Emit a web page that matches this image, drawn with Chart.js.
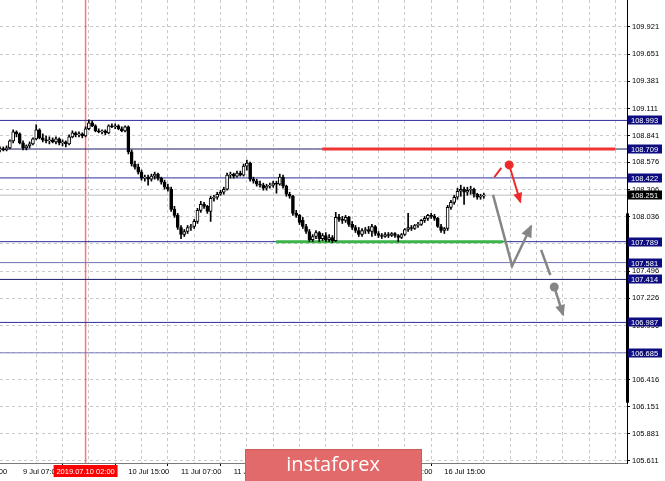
<!DOCTYPE html>
<html>
<head>
<meta charset="utf-8">
<script src="https://cdn.jsdelivr.net/npm/chart.js@4.4.1/dist/chart.umd.min.js"></script>
<style>
  html, body { margin: 0; padding: 0; background: #fff; }
  #wrap { width: 665px; height: 481px; }
</style>
</head>
<body>
<div id="wrap"><canvas id="myChart" width="665" height="481"></canvas></div>
<script>
// USDJPY H1, candle index 0 = 9 Jul 00:00
const opens = [
  108.70,108.71,108.70,108.72,108.79,108.88,108.86,108.77,108.72,108.74,
  108.76,108.81,108.90,108.82,108.80,108.79,108.80,108.78,108.81,108.77,
  108.78,108.76,108.83,108.87,108.85,108.86,108.84,108.91,108.97,108.94,
  108.89,108.88,108.89,108.87,108.94,108.93,108.94,108.91,108.89,108.93,
  108.68,108.56,108.53,108.48,108.42,108.43,108.41,108.44,108.46,108.42,
  108.38,108.33,108.31,108.11,108.05,107.93,107.86,107.89,107.93,107.94,
  107.99,108.10,108.16,108.14,108.09,108.22,108.23,108.26,108.28,108.31,
  108.45,108.46,108.44,108.47,108.45,108.54,108.57,108.41,108.39,108.36,
  108.35,108.32,108.34,108.35,108.37,108.36,108.43,108.34,108.26,108.24,
  108.07,108.05,108.00,107.94,107.89,107.81,107.84,107.88,107.82,107.85,
  107.81,107.83,107.80,108.03,108.01,108.00,108.03,107.96,107.93,107.90,
  107.86,107.90,107.91,107.89,107.94,107.87,107.85,107.84,107.86,107.85,
  107.87,107.85,107.83,107.86,107.91,107.93,107.92,107.95,107.96,108.00,
  108.02,108.05,108.04,108.02,107.94,107.90,107.92,108.13,108.18,108.23,
  108.29,108.31,108.28,108.30,108.31,108.26,108.23,108.24
];
const highs = [
  108.73,108.73,108.74,108.80,108.90,108.89,108.87,108.79,108.75,108.78,
  108.82,108.95,108.91,108.86,108.84,108.83,108.82,108.83,108.82,108.80,
  108.79,108.85,108.89,108.88,108.88,108.87,108.93,109.00,108.99,108.95,
  108.91,108.90,108.90,108.95,108.96,108.96,108.95,108.93,108.94,108.94,
  108.70,108.59,108.56,108.50,108.45,108.45,108.46,108.48,108.47,108.43,
  108.40,108.36,108.33,108.14,108.07,107.95,107.91,107.95,107.96,108.01,
  108.12,108.19,108.18,108.15,108.24,108.25,108.28,108.30,108.33,108.47,
  108.48,108.47,108.49,108.49,108.56,108.60,108.58,108.43,108.41,108.39,
  108.37,108.36,108.37,108.39,108.39,108.46,108.45,108.35,108.28,108.25,
  108.10,108.06,108.03,107.96,107.91,107.86,107.90,107.89,107.87,107.88,
  107.86,107.85,108.08,108.06,108.04,108.05,108.04,107.99,107.95,107.93,
  107.92,107.93,107.94,107.96,107.95,107.89,107.87,107.88,107.88,107.88,
  107.88,107.86,107.87,107.92,108.07,107.95,107.96,107.98,108.01,108.04,
  108.06,108.07,108.06,108.03,107.96,107.93,108.15,108.20,108.25,108.32,
  108.35,108.33,108.33,108.34,108.32,108.27,108.26,108.27
];
const lows = [
  108.68,108.69,108.69,108.71,108.77,108.83,108.76,108.70,108.70,108.72,
  108.75,108.80,108.81,108.78,108.77,108.76,108.77,108.76,108.75,108.74,
  108.73,108.75,108.82,108.83,108.83,108.82,108.83,108.90,108.93,108.88,
  108.87,108.86,108.85,108.86,108.92,108.91,108.90,108.88,108.88,108.66,
  108.54,108.51,108.46,108.40,108.39,108.35,108.39,108.41,108.40,108.36,
  108.31,108.29,108.09,108.03,107.91,107.82,107.84,107.87,107.90,107.92,
  107.97,108.08,108.12,108.07,107.99,108.19,108.21,108.25,108.26,108.30,
  108.42,108.42,108.43,108.44,108.44,108.50,108.39,108.37,108.34,108.33,
  108.30,108.30,108.32,108.33,108.27,108.35,108.32,108.24,108.22,108.05,
  108.03,107.96,107.92,107.87,107.79,107.79,107.82,107.79,107.80,107.79,
  107.79,107.78,107.79,107.99,107.97,107.98,107.94,107.91,107.88,107.84,
  107.84,107.87,107.87,107.84,107.85,107.83,107.82,107.83,107.83,107.84,
  107.83,107.79,107.82,107.85,107.89,107.90,107.91,107.93,107.95,107.98,
  108.00,108.02,108.00,107.93,107.88,107.87,107.90,108.11,108.16,108.21,
  108.24,108.16,108.25,108.26,108.23,108.21,108.21,108.22
];
const closes = [
  108.71,108.70,108.72,108.79,108.88,108.86,108.77,108.72,108.74,108.76,
  108.81,108.90,108.82,108.80,108.79,108.80,108.78,108.81,108.77,108.78,
  108.76,108.83,108.87,108.85,108.86,108.84,108.91,108.97,108.94,108.89,
  108.88,108.89,108.87,108.94,108.93,108.94,108.91,108.89,108.93,108.68,
  108.56,108.53,108.48,108.42,108.43,108.41,108.44,108.46,108.42,108.38,
  108.33,108.31,108.11,108.05,107.93,107.86,107.89,107.93,107.94,107.99,
  108.10,108.16,108.14,108.09,108.22,108.23,108.26,108.28,108.31,108.45,
  108.46,108.44,108.47,108.45,108.54,108.57,108.41,108.39,108.36,108.35,
  108.32,108.34,108.35,108.37,108.36,108.43,108.34,108.26,108.24,108.07,
  108.05,107.98,107.94,107.89,107.81,107.84,107.88,107.82,107.85,107.81,
  107.83,107.80,108.03,108.01,108.00,108.03,107.96,107.93,107.90,107.86,
  107.90,107.91,107.89,107.94,107.87,107.85,107.84,107.86,107.85,107.87,
  107.85,107.83,107.86,107.91,107.93,107.92,107.95,107.96,108.00,108.02,
  108.05,108.04,108.02,107.94,107.90,107.92,108.13,108.18,108.23,108.29,
  108.31,108.28,108.30,108.31,108.26,108.23,108.24,108.251
];

// axis
const yTicks = [109.921,109.651,109.381,109.111,108.841,108.576,108.306,108.036,107.766,
  107.496,107.226,106.956,106.686,106.416,106.151,105.881,105.611];
const gridIdx = [-9,7,15,23,31,39,47,55,63,71,79,87,95,103,111,119,127,135,143,151,159,167,175,183];
const labelIdx = [-9,7,23,39,55,71,87,103,119,135];
const labelText = ['8 Jul 15:00','9 Jul 07:00','9 Jul 23:00','10 Jul 15:00','11 Jul 07:00',
  '11 Jul 23:00','12 Jul 15:00','15 Jul 07:00','15 Jul 23:00','16 Jul 15:00'];

// levels
const levelValues = [108.993,108.709,108.422,107.789,107.581,107.414,106.987,106.685];
const levelColors = ['#2e2e9c','#1a1a5e','#2e2e9c','#2e2e9c','#7272b4','#1c1c66','#2e2e9c','#7a7ab8'];
const lastPrice = 108.251;
const markIdx = 26;            // 2019.07.10 02:00
const markText = '2019.07.10 02:00';
const resistSeg = [[97.9,108.709],[186.9,108.709]];
const supportSeg = [[83.9,107.789],[152.9,107.789]];

// forecast sketch
const redTick = [[150.2,108.431],[152.3,108.521]];
const redDot = [154.7,108.551];
const redArrow = [[154.7,108.551],[158.1,108.183]];
const grayPath = [[149.8,108.253],[155.6,107.548],[161.4,107.945]];
const grayTick = [[164.4,107.707],[167.2,107.458]];
const grayDot = [168.4,107.339];
const grayArrow = [[168.4,107.339],[171.1,107.061]];
const axisBar = [108.07,106.19];

const X_MIN = 0, X_MAX = 190.5, Y_MIN = 105.591, Y_MAX = 110.189;
const FONT = {family: 'Liberation Sans', size: 7.5};

const pts = a => a.map(p => ({x: p[0], y: p[1]}));
const seg = (data, color, width, order, extra) => Object.assign({
  type: 'line', data: pts(data), borderColor: color, borderWidth: width,
  pointRadius: 0, tension: 0, fill: false, order: order
}, extra || {});

const datasets = [];
// candles
datasets.push({
  type: 'bar', order: 1, grouped: false, barThickness: 3,
  data: opens.map((o, i) => ({x: i, y: [Math.min(o, closes[i]), Math.max(o, closes[i])]})),
  backgroundColor: opens.map((o, i) => closes[i] >= o ? '#ffffff' : '#000000'),
  borderColor: '#000', borderWidth: 1, borderSkipped: false
});
datasets.push({
  type: 'bar', order: 2, grouped: false, barThickness: 1,
  data: highs.map((h, i) => ({x: i, y: [lows[i], h]})),
  backgroundColor: '#000', borderWidth: 0
});
levelValues.forEach((v, k) => datasets.push(seg([[X_MIN, v],[X_MAX, v]], levelColors[k], 1, 6)));
datasets.push(seg([[X_MIN, lastPrice],[X_MAX, lastPrice]], '#bdbdbd', 1, 7));
datasets.push(seg([[markIdx, Y_MIN],[markIdx, Y_MAX]], 'rgba(255,70,70,0.75)', 1.5, 8));
datasets.push(seg(resistSeg, '#f03434', 3, 5));
datasets.push(seg(supportSeg, '#3cb44b', 3, 5));
datasets.push(seg(redTick, '#ee2a2a', 2, 0));
datasets.push(seg(redArrow, '#ee2a2a', 2, 0, {arrowSize: 9}));
datasets.push(seg([redDot], '#ee2a2a', 0, 0, {pointRadius: 4.5, pointBackgroundColor: '#ee2a2a', pointBorderWidth: 0}));
datasets.push(seg(grayPath, '#868686', 2.5, 0, {arrowSize: 11}));
datasets.push(seg(grayTick, '#868686', 2.5, 0));
datasets.push(seg(grayArrow, '#868686', 2.5, 0, {arrowSize: 10}));
datasets.push(seg([grayDot], '#868686', 0, 0, {pointRadius: 4.5, pointBackgroundColor: '#868686', pointBorderWidth: 0}));

const arrowHeads = {
  id: 'arrowHeads',
  afterDatasetsDraw(chart) {
    const ctx = chart.ctx;
    chart.data.datasets.forEach((ds, i) => {
      if (!ds.arrowSize) return;
      const el = chart.getDatasetMeta(i).data;
      const a = el[el.length - 2], b = el[el.length - 1];
      const ang = Math.atan2(b.y - a.y, b.x - a.x);
      const s = ds.arrowSize, w = s * 0.5;
      const bx = b.x - s * Math.cos(ang), by = b.y - s * Math.sin(ang);
      ctx.save();
      ctx.fillStyle = ds.borderColor;
      ctx.beginPath();
      ctx.moveTo(b.x + 1.5 * Math.cos(ang), b.y + 1.5 * Math.sin(ang));
      ctx.lineTo(bx + w * Math.sin(ang), by - w * Math.cos(ang));
      ctx.lineTo(bx - w * Math.sin(ang), by + w * Math.cos(ang));
      ctx.closePath();
      ctx.fill();
      ctx.restore();
    });
  }
};

const tags = {
  id: 'tags',
  afterDraw(chart) {
    const ctx = chart.ctx, xs = chart.scales.x, ys = chart.scales.y;
    const right = chart.chartArea.right;
    ctx.save();
    // thick segment on the price axis
    ctx.fillStyle = '#000';
    const t = ys.getPixelForValue(axisBar[0]), b = ys.getPixelForValue(axisBar[1]);
    ctx.fillRect(right - 1, t, 3, b - t);

    ctx.font = '7.5px "Liberation Sans"';
    ctx.textBaseline = 'middle';
    const tag = (v, bg) => {
      const y = Math.round(ys.getPixelForValue(v));
      ctx.fillStyle = bg;
      ctx.fillRect(right + 1, y - 4.5, 34, 9);
      ctx.fillStyle = '#fff';
      ctx.textAlign = 'left';
      ctx.fillText(v.toFixed(3), right + 4, y + 0.5);
    };
    levelValues.forEach(v => tag(v, '#0d0d80'));
    tag(lastPrice, '#000');

    // date box under the red line
    const mx = xs.getPixelForValue(markIdx);
    ctx.fillStyle = '#ff0000';
    ctx.fillRect(mx - 32, 465, 64, 12);
    ctx.fillStyle = '#fff';
    ctx.textAlign = 'center';
    ctx.fillText(markText, mx, 471.5);

    // watermark
    ctx.fillStyle = '#e36a6a';
    ctx.fillRect(245, 449, 177, 32);
    ctx.strokeStyle = '#cf5a5a';
    ctx.lineWidth = 1;
    ctx.strokeRect(245.5, 449.5, 176, 32);
    ctx.fillStyle = '#fff';
    ctx.font = '20px "Open Sans"';
    ctx.textAlign = 'center';
    ctx.fillText('instaforex', 333, 465);
    ctx.restore();
  }
};

const ctx = document.getElementById('myChart');
const myChart = new Chart(ctx, {
  type: 'bar',
  data: {datasets: datasets},
  options: {
    responsive: false,
    animation: false,
    devicePixelRatio: 1,
    layout: {padding: 0, autoPadding: false},
    plugins: {legend: {display: false}, tooltip: {enabled: false}},
    scales: {
      x: {
        type: 'linear', min: X_MIN, max: X_MAX, offset: false,
        afterFit(s) { s.height = 18; s.paddingLeft = 0; s.paddingRight = 0; },
        afterBuildTicks(s) { s.ticks = gridIdx.map(v => ({value: v})); },
        ticks: {
          autoSkip: false, maxRotation: 0, minRotation: 0, align: 'start', padding: 1,
          color: '#000', font: FONT,
          callback(v) { const k = labelIdx.indexOf(v); return k < 0 ? '' : labelText[k]; }
        },
        grid: {
          color: '#c9c9c9', lineWidth: 1, tickLength: 3, tickBorderDash: [],
          tickColor: c => (c.tick && labelIdx.includes(c.tick.value)) ? '#000' : 'rgba(0,0,0,0)'
        },
        border: {display: true, color: '#7a7a7a', dash: [3, 3]}
      },
      y: {
        position: 'right', min: Y_MIN, max: Y_MAX,
        afterFit(s) { s.width = 38; s.paddingTop = 0; s.paddingBottom = 0; },
        afterBuildTicks(s) { s.ticks = yTicks.map(v => ({value: v})); },
        ticks: {padding: 2, color: '#000', font: FONT, callback: v => v.toFixed(3)},
        grid: {color: '#c9c9c9', lineWidth: 1, tickLength: 3, tickColor: '#000', tickBorderDash: []},
        border: {display: true, color: '#000', dash: [3, 3]}
      }
    }
  },
  plugins: [arrowHeads, tags]
});
</script>
</body>
</html>
